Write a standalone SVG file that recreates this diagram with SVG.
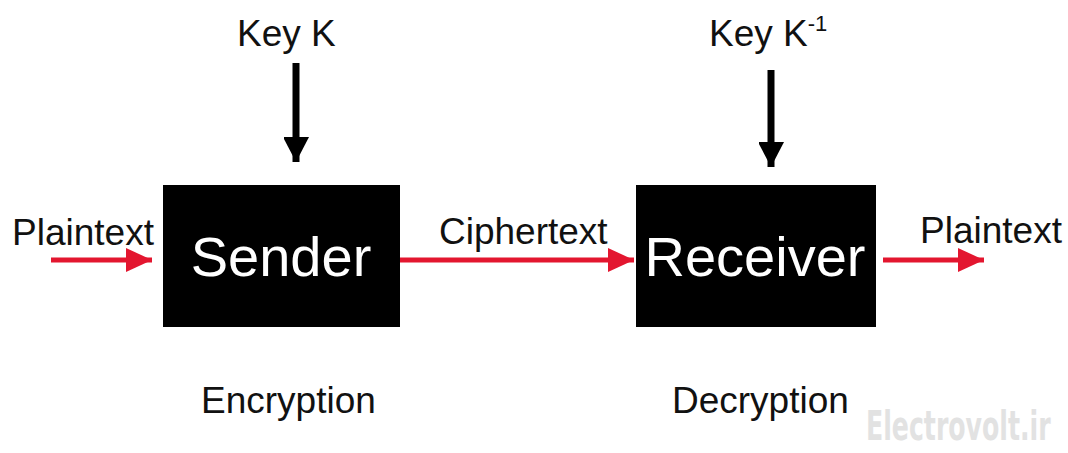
<svg xmlns="http://www.w3.org/2000/svg" width="1068" height="453" viewBox="0 0 1068 453">
  <defs>
    <style>
      .lbl { font-family: "Liberation Sans", Arial, sans-serif; font-size: 37px; fill: #111; }
      .box { fill: #000; }
      .boxtxt { font-family: "Liberation Sans", Arial, sans-serif; font-size: 56px; fill: #fff; text-anchor: middle; }
      .red { stroke: #e3162f; stroke-width: 5; fill: none; }
      .key { stroke: #000; stroke-width: 7; fill: none; }
      .mark { font-family: "DejaVu Sans", sans-serif; font-size: 40px; font-weight: bold; fill: #e2e2e2; }
    </style>
    <marker id="redHead" viewBox="0 0 26 24" refX="26" refY="12" markerWidth="26" markerHeight="24" markerUnits="userSpaceOnUse" orient="auto">
      <path d="M0,0 L26,12 L0,24 Z" fill="#e3162f"/>
    </marker>
    <marker id="blackHead" viewBox="0 0 26 25" refX="25" refY="13" markerWidth="26" markerHeight="25" markerUnits="userSpaceOnUse" orient="auto">
      <path d="M0,0 L25,13 L0,26 Z" fill="#000"/>
    </marker>
  </defs>
  <rect width="1068" height="453" fill="#fff"/>

  <g id="connectors">
    <line class="red" x1="51" y1="260" x2="152" y2="260" marker-end="url(#redHead)"/>
    <line class="red" x1="400" y1="260" x2="634" y2="260" marker-end="url(#redHead)"/>
    <line class="red" x1="883" y1="260" x2="984" y2="260" marker-end="url(#redHead)"/>
    <line class="key" x1="296" y1="63" x2="296" y2="162" marker-end="url(#blackHead)"/>
    <line class="key" x1="771" y1="70" x2="771" y2="167" marker-end="url(#blackHead)"/>
  </g>

  <g id="sender">
    <rect class="box" x="163" y="185" width="237" height="142"/>
    <text class="boxtxt" x="281" y="276">Sender</text>
  </g>

  <g id="receiver">
    <rect class="box" x="636" y="185" width="240" height="142"/>
    <text class="boxtxt" x="755" y="276">Receiver</text>
  </g>

  <g id="labels">
    <text class="lbl" x="12" y="245">Plaintext</text>
    <text class="lbl" x="439" y="244">Ciphertext</text>
    <text class="lbl" x="920" y="243">Plaintext</text>
    <text class="lbl" x="237" y="46">Key K</text>
    <text class="lbl" x="709" y="46">Key K<tspan font-size="22" dy="-15">-1</tspan></text>
    <text class="lbl" x="201" y="413">Encryption</text>
    <text class="lbl" x="672" y="413">Decryption</text>
  </g>

  <!-- narrow watermark, squeezed horizontally -->
  <text class="mark" transform="translate(866,440) scale(0.63,1)">Electrovolt.ir</text>
</svg>
